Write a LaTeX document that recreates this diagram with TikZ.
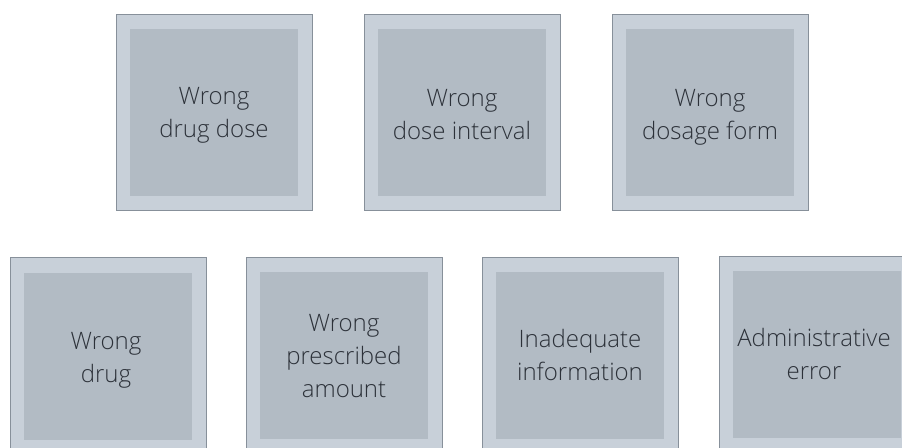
\documentclass[tikz,border=0pt]{standalone}
\usepackage{fontspec}
\setmainfont{Open Sans}[UprightFont=* Light]
\definecolor{outerfill}{HTML}{C8D0D9}
\definecolor{outerline}{HTML}{87909A}
\definecolor{innerfill}{HTML}{B2BBC4}
\definecolor{txt}{HTML}{2C3139}
\begin{document}
\begin{tikzpicture}[x=1pt,y=-1pt,
  outerbox/.style={draw=outerline, fill=outerfill, line width=1pt, minimum width=196pt, minimum height=196pt, inner sep=0pt},
  innerbox/.style={fill=innerfill, minimum width=168pt, minimum height=167pt, inner sep=0pt},
  lbl/.style={align=center, text=txt, inner sep=0pt, font=\fontsize{24}{33}\selectfont}]
\useasboundingbox (0,0) rectangle (902,447);
\clip (0,0) rectangle (902,447);
\fill[white] (0,0) rectangle (902,447);
% top row
\node[outerbox] (o1) at (214,112) {};
\node[innerbox] (i1) at (214,112) {};
\node[lbl] (t1) at (214,115) {Wrong\\drug dose};
\node[outerbox] (o2) at (462,112) {};
\node[innerbox] (i2) at (462,112) {};
\node[lbl] (t2) at (462,115) {Wrong\\dose interval};
\node[outerbox] (o3) at (710,112) {};
\node[innerbox] (i3) at (710,112) {};
\node[lbl] (t3) at (710,117) {Wrong\\dosage form};
% bottom row
\node[outerbox] (o4) at (108,355) {};
\node[innerbox] (i4) at (108,356) {};
\node[lbl] (t4) at (106,360) {Wrong\\drug};
\node[outerbox] (o5) at (344,355) {};
\node[innerbox] (i5) at (344,355) {};
\node[lbl] (t5) at (344,356) {Wrong\\prescribed\\amount};
\node[outerbox] (o6) at (580,355) {};
\node[innerbox] (i6) at (580,355) {};
\node[lbl] (t6) at (580,355) {Inadequate\\information};
\node[outerbox] (o7) at (817,354) {};
\node[innerbox] (i7) at (817,354) {};
\node[lbl] (t7) at (814,354) {Administrative\\error};
\end{tikzpicture}
\end{document}
